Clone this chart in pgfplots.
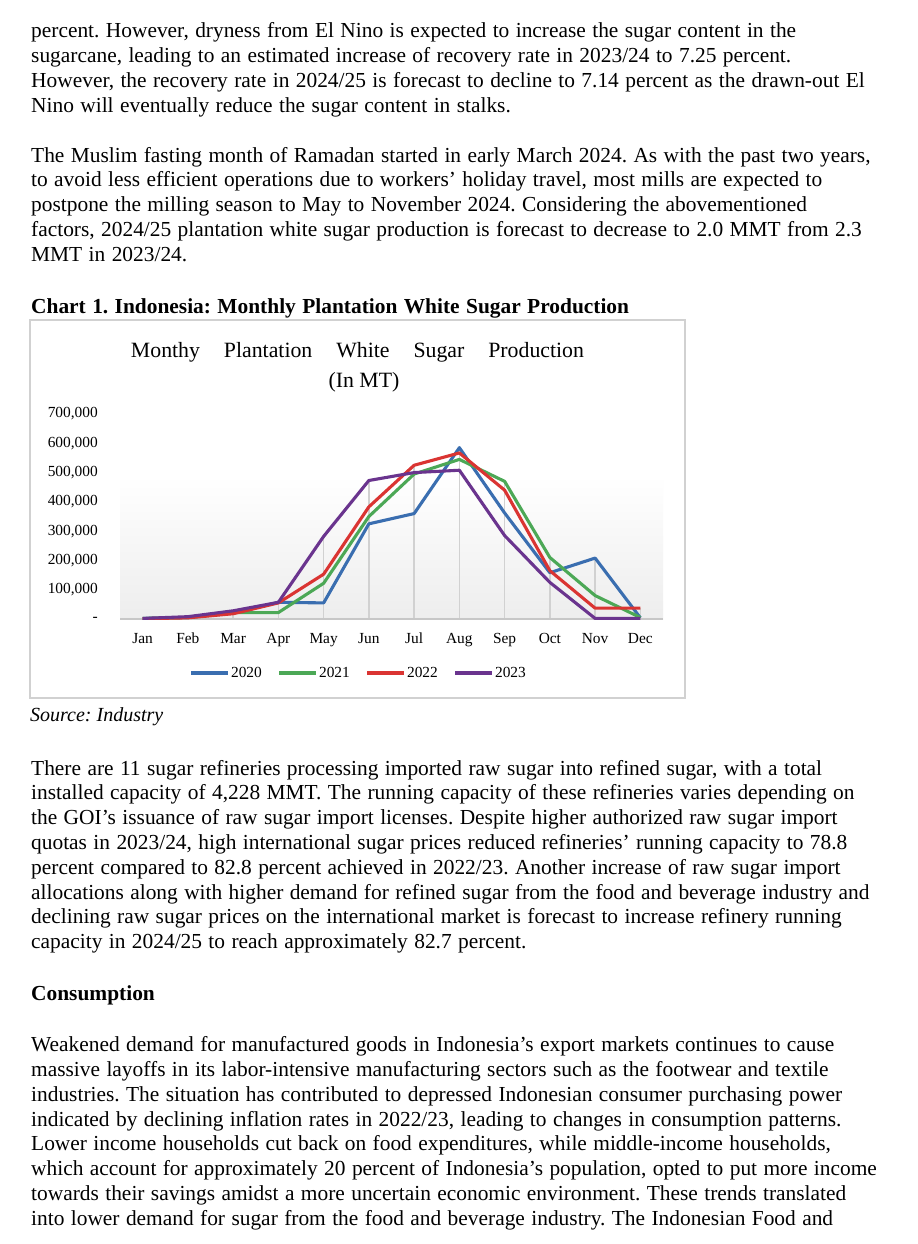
\documentclass[border=0pt]{standalone}
\usepackage{pgfplots}
\usepackage{pgfplotstable}
\pgfplotsset{compat=1.18}
\usepackage{fontspec}
\setmainfont{Liberation Serif}
\definecolor{c2020}{RGB}{58,110,176}
\definecolor{c2021}{RGB}{76,168,86}
\definecolor{c2022}{RGB}{218,52,50}
\definecolor{c2023}{RGB}{106,52,142}
\frenchspacing
\newcommand{\bodyfont}{\fontsize{21.4bp}{24.8bp}\selectfont\spaceskip=6.4bp\relax}
\newcommand{\bline}[2]{\node[anchor=base west,inner sep=0pt,font=\bodyfont] at (31,#1) {#2};}
\newcommand{\tickfont}{\fontsize{15.4bp}{18bp}\selectfont}

\pgfplotstableread{
m  a      b      c      d      mx
0  2000   2000   1000   2000   2000
1  5000   5000   4000   8000   8000
2  20000  22000  18000  28000  28000
3  57000  22000  55000  57000  57000
4  55000  122000 153000 282000 282000
5  325000 350000 383000 473000 473000
6  360000 495000 525000 500000 525000
7  585000 545000 567000 508000 585000
8  362000 470000 440000 285000 470000
9  158000 210000 165000 125000 210000
10 208000 80000  37000  2000   208000
11 4000   5000   37000  2000   37000
}\data

\begin{document}
\begin{tikzpicture}
\path[use as bounding box, fill=white] (0,0) rectangle (918bp,-1244bp);
\begin{scope}[x=1bp,y=-1bp]
\bline{37.3}{percent. However, dryness from El Nino is expected to increase the sugar content in the}
\bline{62.2}{sugarcane, leading to an estimated increase of recovery rate in 2023/24 to 7.25 percent.}
\bline{87.1}{However, the recovery rate in 2024/25 is forecast to decline to 7.14 percent as the drawn-out El}
\bline{112.0}{Nino will eventually reduce the sugar content in stalks.}
\bline{162.0}{The Muslim fasting month of Ramadan started in early March 2024. As with the past two years,}
\bline{186.9}{to avoid less efficient operations due to workers’ holiday travel, most mills are expected to}
\bline{211.7}{postpone the milling season to May to November 2024. Considering the abovementioned}
\bline{236.6}{factors, 2024/25 plantation white sugar production is forecast to decrease to 2.0 MMT from 2.3}
\bline{261.4}{MMT in 2023/24.}
\bline{313.0}{\bfseries Chart 1. Indonesia: Monthly Plantation White Sugar Production}
\node[anchor=base west,inner sep=0pt,font=\fontsize{20bp}{24bp}\selectfont\itshape] at (30,721.5) {Source: Industry};
\bline{775.0}{There are 11 sugar refineries processing imported raw sugar into refined sugar, with a total}
\bline{799.8}{installed capacity of 4,228 MMT. The running capacity of these refineries varies depending on}
\bline{824.6}{the GOI’s issuance of raw sugar import licenses. Despite higher authorized raw sugar import}
\bline{849.4}{quotas in 2023/24, high international sugar prices reduced refineries’ running capacity to 78.8}
\bline{874.2}{percent compared to 82.8 percent achieved in 2022/23. Another increase of raw sugar import}
\bline{899.0}{allocations along with higher demand for refined sugar from the food and beverage industry and}
\bline{923.8}{declining raw sugar prices on the international market is forecast to increase refinery running}
\bline{948.6}{capacity in 2024/25 to reach approximately 82.7 percent.}
\bline{1000.5}{\bfseries Consumption}
\bline{1051.7}{Weakened demand for manufactured goods in Indonesia’s export markets continues to cause}
\bline{1076.5}{massive layoffs in its labor-intensive manufacturing sectors such as the footwear and textile}
\bline{1101.3}{industries. The situation has contributed to depressed Indonesian consumer purchasing power}
\bline{1126.1}{indicated by declining inflation rates in 2022/23, leading to changes in consumption patterns.}
\bline{1150.9}{Lower income households cut back on food expenditures, while middle-income households,}
\bline{1175.7}{which account for approximately 20 percent of Indonesia’s population, opted to put more income}
\bline{1200.5}{towards their savings amidst a more uncertain economic environment. These trends translated}
\bline{1225.3}{into lower demand for sugar from the food and beverage industry. The Indonesian Food and}
% chart frame
\draw[black!18, line width=1.5bp] (30,320) rectangle (685,698);
% chart title
\node[anchor=base, inner sep=0pt, font=\fontsize{21.8bp}{26bp}\selectfont] at (357.5,357)
  {Monthy\hspace{18.5bp} Plantation\hspace{18.5bp} White\hspace{18.5bp} Sugar\hspace{18.5bp} Production};
\node[anchor=base, inner sep=0pt, font=\fontsize{21.8bp}{26bp}\selectfont] at (364,387) {(In MT)};
\end{scope}

\begin{axis}[
  at={(120bp,-619bp)}, anchor=south west,
  scale only axis, width=543bp, height=205bp,
  xmin=-0.5, xmax=11.5, ymin=0, ymax=700000,
  scaled y ticks=false,
  axis line style={draw=none},
  major tick length=0pt,
  xtick={0,...,11},
  xticklabels={Jan,Feb,Mar,Apr,May,Jun,Jul,Aug,Sep,Oct,Nov,Dec},
  ytick={0,100000,200000,300000,400000,500000,600000,700000},
  yticklabels={{-\hspace{6bp}},{100,000},{200,000},{300,000},{400,000},{500,000},{600,000},{700,000}},
  tick label style={font=\tickfont},
  yticklabel style={anchor=east, inner sep=0pt, xshift=-22bp},
  xticklabel style={anchor=base, inner sep=0pt, yshift=-24bp},
  legend columns=4,
  legend style={at={(0.439,-0.263)}, anchor=center, draw=none, fill=none,
    font=\fontsize{15.4bp}{18bp}\selectfont,
    nodes={inner sep=1bp},
    /tikz/every even column/.append style={column sep=15bp}},
  legend image code/.code={\draw[#1, line width=3.2bp] (0bp,0bp) -- (37bp,0bp);},
]
\fill[top color=white, bottom color=black!7] (axis cs:-0.5,0) rectangle (axis cs:11.5,490000);
\addplot[ycomb, draw=black!18, line width=1.3bp, forget plot] table[x=m,y=mx] {\data};
\draw[black!22, line width=1.5bp] (axis cs:-0.5,0) -- (axis cs:11.5,0);
\addplot[c2020, line width=3.1bp, line join=round] table[x=m,y=a] {\data};
\addlegendentry{2020}
\addplot[c2021, line width=3.1bp, line join=round] table[x=m,y=b] {\data};
\addlegendentry{2021}
\addplot[c2022, line width=3.1bp, line join=round] table[x=m,y=c] {\data};
\addlegendentry{2022}
\addplot[c2023, line width=3.1bp, line join=round] table[x=m,y=d] {\data};
\addlegendentry{2023}
\end{axis}
\end{tikzpicture}
\end{document}
